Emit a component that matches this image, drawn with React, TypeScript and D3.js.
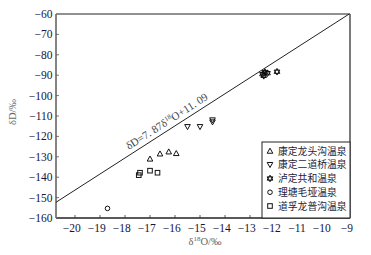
import React from "react";
import * as d3 from "d3";

const W = 371;
const H = 255;

const xTicks = [-20, -19, -18, -17, -16, -15, -14, -13, -12, -11, -10, -9];
const yTicks = [-60, -70, -80, -90, -100, -110, -120, -130, -140, -150, -160];

const longtouX = [-17.0, -16.6, -16.25, -15.95];
const longtouY = [-131, -128.5, -127.5, -128.3];

const erdaoX = [-15.5, -15.0, -14.5, -14.5];
const erdaoY = [-115.3, -115.3, -112.0, -113.0];

const ludingX = [-12.5, -12.4, -12.3, -12.45, -11.92];
const ludingY = [-89.5, -88.5, -89.0, -90.3, -88.3];

const litangX = [-18.7];
const litangY = [-155.3];

const daofuX = [-17.45, -17.4, -17.0, -16.7];
const daofuY = [-139, -137.8, -136.8, -137.8];

const legendNames = ["康定龙头沟温泉", "康定二道桥温泉", "泸定共和温泉", "理塘毛垭温泉", "道孚龙普沟温泉"];
const legendKinds = ["up", "down", "star", "circle", "square"];

const slope = 7.87;
const intercept = 11.09;

function marker(kind: string, cx: number, cy: number, key: string) {
  const s = 2.8;
  const common = { fill: "none", stroke: "#111", strokeWidth: 1 } as any;
  if (kind === "up") {
    return <path key={key} d={`M${cx},${cy - s}L${cx + s},${cy + s * 0.8}L${cx - s},${cy + s * 0.8}Z`} {...common} />;
  }
  if (kind === "down") {
    return <path key={key} d={`M${cx},${cy + s}L${cx + s},${cy - s * 0.8}L${cx - s},${cy - s * 0.8}Z`} {...common} />;
  }
  if (kind === "circle") {
    return <circle key={key} cx={cx} cy={cy} r={2.3} {...common} />;
  }
  if (kind === "square") {
    return <rect key={key} x={cx - 2.3} y={cy - 2.3} width={4.6} height={4.6} {...common} />;
  }
  const r = 3.3;
  const tri = (a0: number) =>
    [0, 1, 2]
      .map((i) => {
        const a = a0 + (i * 2 * Math.PI) / 3;
        return `${i === 0 ? "M" : "L"}${cx + r * Math.sin(a)},${cy - r * Math.cos(a)}`;
      })
      .join("") + "Z";
  return <path key={key} d={tri(0) + tri(Math.PI)} {...common} />;
}

export default function App() {
  const x = d3.scaleLinear().domain([-20.76, -9]).range([56, 350]);
  const y = d3.scaleLinear().domain([-160, -60]).range([218, 14]);
  const [x0, x1] = x.domain();
  const [y0, y1] = y.domain();

  const lx0 = x0;
  const lx1 = (y1 - intercept) / slope;
  const line = d3.line<[number, number]>().x((d) => x(d[0])).y((d) => y(d[1]));
  const lineD = line([
    [lx0, slope * lx0 + intercept],
    [lx1, slope * lx1 + intercept],
  ]);

  const labX = -16.15;
  const px = x(labX);
  const py = y(slope * labX + intercept);
  const ang = (Math.atan2(y(slope * (labX + 1) + intercept) - py, x(labX + 1) - px) * 180) / Math.PI;

  const series = [
    { kind: "up", xs: longtouX, ys: longtouY },
    { kind: "down", xs: erdaoX, ys: erdaoY },
    { kind: "star", xs: ludingX, ys: ludingY },
    { kind: "circle", xs: litangX, ys: litangY },
    { kind: "square", xs: daofuX, ys: daofuY },
  ];

  const font = "'Liberation Serif', 'DejaVu Serif', serif";
  const cjk = "'Noto Sans CJK SC', sans-serif";

  const lgX = 262;
  const lgY = 142;

  return (
    <svg width={W} height={H} style={{ position: "absolute", left: 0, top: 0, background: "#fff" }}>
      {/* frame */}
      <line x1={x(x0)} x2={x(x1)} y1={y(y1)} y2={y(y1)} stroke="#222" strokeWidth={1.2} />
      <line x1={x(x1)} x2={x(x1)} y1={y(y1)} y2={y(y0)} stroke="#222" strokeWidth={1.2} />
      <line x1={x(x0)} x2={x(x1)} y1={y(y0)} y2={y(y0)} stroke="#222" strokeWidth={1.4} />
      <line x1={x(x0)} x2={x(x0)} y1={y(y1)} y2={y(y0)} stroke="#777" strokeWidth={1.8} />

      {/* ticks */}
      {xTicks.slice(0, -1).map((t) => (
        <line key={"xt" + t} x1={x(t)} x2={x(t)} y1={y(y0)} y2={y(y0) - 3} stroke="#333" strokeWidth={0.8} />
      ))}
      {yTicks.slice(1, -1).map((t) => (
        <line key={"yt" + t} x1={x(x0)} x2={x(x0) + 3} y1={y(t)} y2={y(t)} stroke="#555" strokeWidth={0.8} />
      ))}

      {/* tick labels */}
      {xTicks.map((t) => {
        const digits = String(Math.abs(t));
        return (
          <text key={"xl" + t} x={x(t) + digits.length * 2.9} y={231.5} textAnchor="end" fontFamily={font} fontSize={11.5} fill="#15153a">
            {"−" + digits}
          </text>
        );
      })}
      {yTicks.map((t) => (
        <text key={"yl" + t} x={52.5} y={y(t) + 4} textAnchor="end" fontFamily={font} fontSize={11.5} fill="#15153a">
          {"−" + Math.abs(t)}
        </text>
      ))}

      {/* axis titles */}
      <text transform={`translate(16,112) rotate(-90)`} textAnchor="middle" fontFamily={font} fontSize={10.5} fill="#666">
        δD/‰
      </text>
      <text x={205} y={245} textAnchor="middle" fontFamily={font} fontSize={10.5} fill="#666">
        δ<tspan fontSize={7} dy={-4}>18</tspan>
        <tspan dy={4}>O/‰</tspan>
      </text>

      {/* regression line */}
      <path d={lineD || ""} fill="none" stroke="#222" strokeWidth={1} />
      <text
        transform={`translate(${px},${py}) rotate(${ang}) translate(0,-4.5)`}
        textAnchor="middle"
        fontFamily={font}
        fontSize={11}
        fill="#444"
      >
        δD=7. 87δ<tspan fontSize={7} dy={-4}>18</tspan>
        <tspan dy={4}>O+11. 09</tspan>
      </text>

      {/* points */}
      {series.map((s) => s.xs.map((v, i) => marker(s.kind, x(v), y(s.ys[i]), s.kind + i)))}

      {/* legend */}
      <rect x={lgX} y={lgY} width={x(x1) - lgX} height={y(y0) - lgY} fill="#fff" stroke="#222" strokeWidth={1} />
      {legendNames.map((n, i) => {
        const cy = 151 + i * 13.75;
        return (
          <g key={n}>
            {marker(legendKinds[i], 270, cy, "lg" + i)}
            <text x={278} y={cy + 3.6} fontFamily={cjk} fontSize={9.8} fill="#1d1d3a">
              {n}
            </text>
          </g>
        );
      })}
    </svg>
  );
}
